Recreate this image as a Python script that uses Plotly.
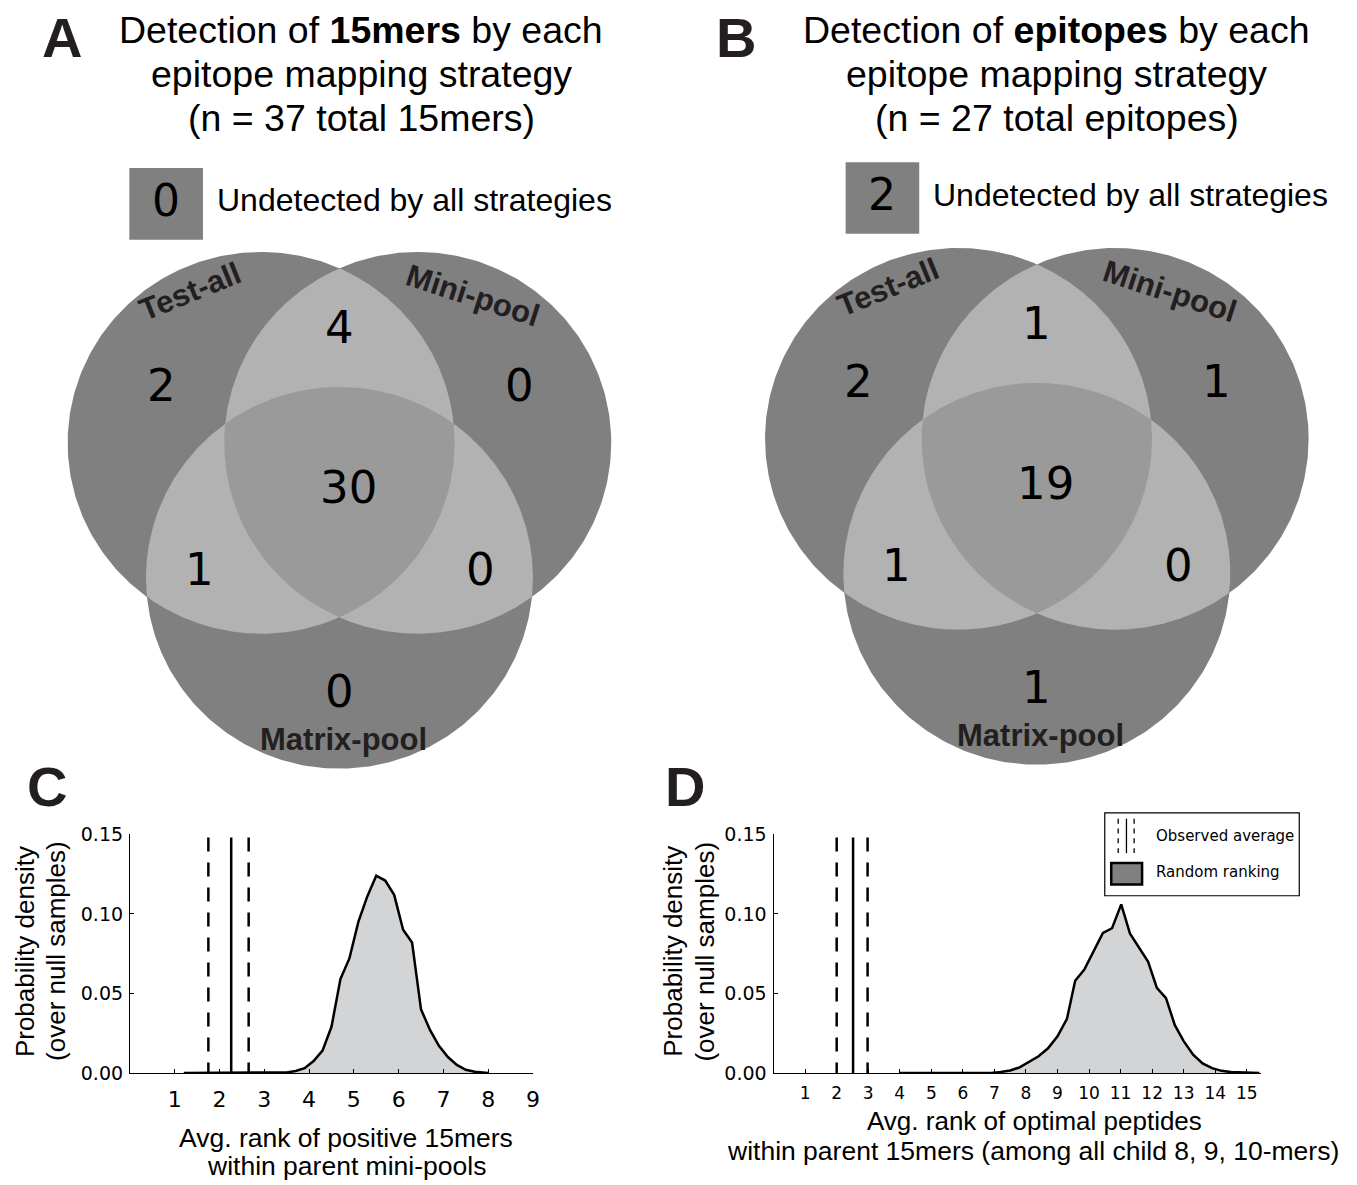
import numpy as np
import plotly.graph_objects as go

W, H = 1357, 1185

# ---------------- data ----------------
set_labels = ["Test-all", "Mini-pool", "Matrix-pool"]
region_names = ["Test-all only", "Mini-pool only", "Matrix-pool only",
                "Test-all & Mini-pool", "Test-all & Matrix-pool",
                "Mini-pool & Matrix-pool", "All three"]
counts_15mers = [2, 0, 0, 4, 1, 0, 30]
undetected_15mers = 0
counts_epitopes = [2, 1, 1, 1, 1, 0, 19]
undetected_epitopes = 2

# Panel C: null distribution of average rank (mini-pools)
c_x = [1.2, 3.0, 3.5, 3.7, 3.9, 4.1, 4.3, 4.5, 4.7, 4.9, 5.1, 5.3, 5.5, 5.7,
       5.9, 6.1, 6.3, 6.5, 6.7, 6.9, 7.1, 7.3, 7.5, 7.7, 7.9, 8.0]
c_y = [0.0, 0.0, 0.0003, 0.0012, 0.003, 0.0075, 0.014, 0.029, 0.059, 0.072,
       0.095, 0.111, 0.124, 0.121, 0.112, 0.090, 0.082, 0.040, 0.027, 0.017,
       0.010, 0.005, 0.002, 0.0007, 0.0001, 0.0]
c_observed = [1.75, 2.26, 2.65]   # lower CI, mean, upper CI

# Panel D: null distribution of average rank (optimal peptides)
d_x = [4.0, 6.9, 7.2, 7.5, 7.8, 8.1, 8.4, 8.7, 9.0, 9.3, 9.56, 9.85, 10.15,
       10.44, 10.73, 11.02, 11.3, 11.58, 11.87, 12.15, 12.44, 12.72, 13.0,
       13.3, 13.6, 13.9, 14.2, 14.5, 14.8, 15.4]
d_y = [0.0, 0.0, 0.0006, 0.0015, 0.0035, 0.007, 0.0105, 0.0155, 0.023, 0.034,
       0.058, 0.065, 0.077, 0.088, 0.091, 0.106, 0.0875, 0.079, 0.070, 0.0535,
       0.047, 0.030, 0.020, 0.0115, 0.006, 0.003, 0.0013, 0.0005, 0.0002, 0.0]
d_observed = [2.0, 2.52, 2.98]

c_ticks = [1, 2, 3, 4, 5, 6, 7, 8, 9]
d_ticks = list(range(1, 16))
y_ticks = [0.0, 0.05, 0.10, 0.15]
y_ticktext = ["0.00", "0.05", "0.10", "0.15"]

# ---------------- styling / layout constants ----------------
DARK, LENS, CORE = "#808080", "#b2b2b2", "#9a9a9a"
FILL = "#d3d4d6"
SANS = "Liberation Sans"
DV = "DejaVu Sans"

R = 194.5
circle_offsets = [(-78.7, -45.8), (78.7, -45.8), (0.0, 91.7)]
number_offsets = [(-179, -104), (181, -104), (0, 208), (0, -163),
                  (-141, 83), (142, 83), (9, 0)]
label_offsets = [(-150, -200, -22), (134, -196, 18), (4, 256, 0)]
venn_origins = [(341.2, 485.8), (1042.2, 481.7)]

fig = go.Figure()


def px(x):
    return x / W


def py(y):
    return 1 - y / H


def circle_polygon(c, n=400):
    t = np.linspace(0, 2 * np.pi, n)
    return c[0] + R * np.cos(t), c[1] + R * np.sin(t)


def intersection_polygon(cs, n=2000):
    pts = []
    for i, c in enumerate(cs):
        t = np.linspace(0, 2 * np.pi, n, endpoint=False)
        x = c[0] + R * np.cos(t)
        y = c[1] + R * np.sin(t)
        ok = np.ones_like(x, dtype=bool)
        for j, o in enumerate(cs):
            if j != i:
                ok &= (x - o[0]) ** 2 + (y - o[1]) ** 2 <= R ** 2 + 1e-6
        pts.append(np.column_stack([x[ok], y[ok]]))
    p = np.vstack(pts)
    m = p.mean(axis=0)
    ang = np.arctan2(p[:, 1] - m[1], p[:, 0] - m[0])
    p = p[np.argsort(ang)]
    p = np.vstack([p, p[:1]])
    return p[:, 0], p[:, 1]


annotations = []
shapes = []


def ann(text, x, y, size, family=SANS, color="black", xanchor="center",
        angle=0):
    annotations.append(dict(text=text, x=px(x), y=py(y), xref="paper",
                            yref="paper", showarrow=False, xanchor=xanchor,
                            yanchor="middle", textangle=angle,
                            font=dict(size=size, family=family, color=color)))


def add_poly(x, y, color):
    fig.add_trace(go.Scatter(x=x, y=y, mode="lines", fill="toself",
                             fillcolor=color, line=dict(width=0, color=color),
                             hoverinfo="skip", showlegend=False,
                             xaxis="x", yaxis="y"))


for (ox, oy), counts in zip(venn_origins, [counts_15mers, counts_epitopes]):
    cs = [(ox + dx, oy + dy) for dx, dy in circle_offsets]
    for c in cs:
        add_poly(*circle_polygon(c), DARK)
    for a, b in [(0, 1), (0, 2), (1, 2)]:
        add_poly(*intersection_polygon([cs[a], cs[b]]), LENS)
    add_poly(*intersection_polygon(cs), CORE)
    for (dx, dy), v in zip(number_offsets, counts):
        ann(str(v), ox + dx, oy + dy, 45, DV)
    for (dx, dy, ang), lab in zip(label_offsets, set_labels):
        ann("<b>%s</b>" % lab, ox + dx, oy + dy, 31, SANS, "#231f20",
            angle=ang)

# titles
titles = [
    (363, "15mers", "15mers", sum(counts_15mers) + undetected_15mers),
    (1062, "epitopes", "epitopes", sum(counts_epitopes) + undetected_epitopes),
]
for cx, bold, unit, n in titles:
    ann("Detection of <b>%s</b> by each" % bold, cx, 19, 37.5)
    ann("epitope mapping strategy", cx, 64, 37.5)
    ann("(n = %d total %s)" % (n, unit), cx, 109, 37.5)

# undetected boxes
for (x0, y0), v in zip([(130, 160), (850, 154)],
                       [undetected_15mers, undetected_epitopes]):
    shapes.append(dict(type="rect", xref="paper", yref="paper",
                       x0=px(x0), x1=px(x0 + 74), y0=py(y0), y1=py(y0 + 73),
                       fillcolor=DARK, line=dict(width=0), layer="below"))
    ann(str(v), x0 + 37, y0 + 33, 44, DV)
    ann("Undetected by all strategies", x0 + 86, y0 + 33, 32, SANS,
        xanchor="left")

# panel letters
for letter, x, y in [("A", 62, 27), ("B", 740, 27), ("C", 47, 790),
                     ("D", 689, 790)]:
    ann("<b>%s</b>" % letter, x, y, 56, SANS, "#231f20")

# ---------------- density panels ----------------
for xs, ys, obs, xa, ya in [(c_x, c_y, c_observed, "x2", "y2"),
                            (d_x, d_y, d_observed, "x3", "y3")]:
    fig.add_trace(go.Scatter(x=xs, y=ys, mode="lines", fill="tozeroy",
                             fillcolor=FILL, line=dict(color="black", width=2.5),
                             hoverinfo="skip", showlegend=False,
                             xaxis=xa, yaxis=ya))
    for k, v in enumerate(obs):
        fig.add_trace(go.Scatter(x=[v, v], y=[0.148, 0.0], mode="lines",
                                 line=dict(color="black", width=2.5,
                                           dash="solid" if k == 1 else "14px,11px"),
                                 hoverinfo="skip", showlegend=False,
                                 xaxis=xa, yaxis=ya))

# axis titles
ann("Avg. rank of positive 15mers", 348, 1148, 26.5)
ann("within parent mini-pools", 348, 1177, 26.5)
ann("Avg. rank of optimal peptides", 1040, 1131, 26)
ann("within parent 15mers (among all child 8, 9, 10-mers)", 1038, 1162, 26.5)
for x1, x2 in [(25, 57), (677, 709)]:
    ann("Probability density", x1, 958, 26, angle=-90)
    ann("(over null samples)", x2, 958, 26, angle=-90)

# legend in D
shapes.append(dict(type="rect", xref="paper", yref="paper",
                   x0=px(1110.5), x1=px(1306), y0=py(817), y1=py(901.5),
                   line=dict(color="black", width=1.2), fillcolor="white",
                   layer="above"))
for xl, dash in [(1124, "dash"), (1132.3, "solid"), (1140, "dash")]:
    if dash == "solid":
        shapes.append(dict(type="line", xref="paper", yref="paper",
                           x0=px(xl), x1=px(xl), y0=py(823), y1=py(858),
                           line=dict(color="black", width=1.3)))
    else:
        for s in range(4):
            ya0 = 823 + s * 10
            shapes.append(dict(type="line", xref="paper", yref="paper",
                               x0=px(xl), x1=px(xl), y0=py(ya0),
                               y1=py(ya0 + 5),
                               line=dict(color="black", width=1.3)))
shapes.append(dict(type="rect", xref="paper", yref="paper",
                   x0=px(1117), x1=px(1148), y0=py(868), y1=py(890),
                   fillcolor=DARK, line=dict(color="black", width=2.5)))
ann("Observed average", 1160, 841, 15, DV, xanchor="left")
ann("Random ranking", 1160, 877, 15, DV, xanchor="left")

ydom = [py(1082), py(839)]
axis_common = dict(showline=True, linecolor="black", linewidth=1.3,
                   ticks="inside", ticklen=4, tickwidth=1, tickcolor="black",
                   showgrid=False, zeroline=False, fixedrange=True)

fig.update_layout(
    width=W, height=H, margin=dict(l=0, r=0, t=0, b=0),
    paper_bgcolor="white", plot_bgcolor="rgba(0,0,0,0)",
    showlegend=False, hovermode=False,
    xaxis=dict(domain=[0, 1], range=[0, W], visible=False, fixedrange=True),
    yaxis=dict(domain=[0, 1], range=[H, 0], visible=False, fixedrange=True),
    xaxis2=dict(domain=[px(130.7), px(535.7)], range=[0, 9], anchor="y2",
                tickvals=c_ticks, ticklabelstandoff=7,
                tickfont=dict(family=DV, size=22, color="black"),
                **axis_common),
    yaxis2=dict(domain=ydom, range=[0, 0.15], anchor="x2",
                tickvals=y_ticks, ticktext=y_ticktext, ticklabelstandoff=2,
                tickfont=dict(family=DV, size=19, color="black"),
                **axis_common),
    xaxis3=dict(domain=[px(777.6), px(1267.5)], range=[0, 15.45],
                anchor="y3", tickvals=d_ticks, ticklabelstandoff=5,
                tickfont=dict(family=DV, size=17, color="black"),
                **axis_common),
    yaxis3=dict(domain=ydom, range=[0, 0.15], anchor="x3",
                tickvals=y_ticks, ticktext=y_ticktext, ticklabelstandoff=2,
                tickfont=dict(family=DV, size=19, color="black"),
                **axis_common),
    annotations=annotations, shapes=shapes,
)

fig.write_html("out.html")
